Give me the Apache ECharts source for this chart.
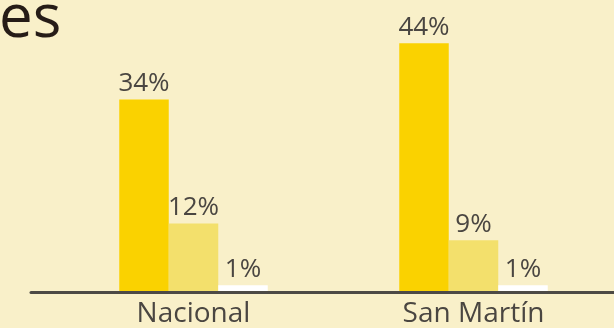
<!DOCTYPE html>
<html>
<head>
<meta charset="utf-8">
<script src="https://cdn.jsdelivr.net/npm/echarts@6/dist/echarts.min.js"></script>
<style>
  html, body { margin: 0; padding: 0; background: #F9F0C9; }
  #chart { width: 614px; height: 328px; }
</style>
</head>
<body>
<div id="chart"></div>
<script>
// Regions on the horizontal axis
const categories = ['Nacional', 'San Martín'];
// Three answer groups per region, in percent
const seriesA = [34, 44];
const seriesB = [12, 9];
const seriesC = [1, 1];
const seriesColors = ['#FAD200', '#F3E06C', '#FFFFFF'];
const titleText = 'es';

const FONT = '"Open Sans", "Noto Sans", sans-serif';
const TEXT = '#4A4641';
const RULE = '#4D4A45';

function barSeries(values, color) {
  return {
    type: 'bar',
    data: values,
    xAxisIndex: 0,
    yAxisIndex: 0,
    barWidth: 49.5,
    barGap: '0%',
    itemStyle: { color: color },
    label: {
      show: true,
      position: 'top',
      distance: 3,
      formatter: '{c}%',
      fontFamily: FONT,
      fontSize: 26,
      color: TEXT
    },
    silent: true,
    z: 1
  };
}

const chart = echarts.init(document.getElementById('chart'), null, { renderer: 'canvas' });
chart.setOption({
  backgroundColor: '#F9F0C9',
  animation: false,
  title: {
    text: titleText,
    left: -1,
    top: -10,
    padding: 0,
    textStyle: { fontFamily: FONT, fontSize: 60, fontWeight: 'normal', color: '#261C17' }
  },
  grid: [
    // bars
    { left: 53.5, right: 0.5, top: 9.5, bottom: 36, containLabel: false },
    // baseline rule, running a little further left than the bars' bands
    { left: 31, right: 0, top: 9.5, bottom: 36, containLabel: false }
  ],
  xAxis: [
    {
      type: 'category',
      gridIndex: 0,
      data: categories,
      axisLine: { show: false },
      axisTick: { show: false },
      axisLabel: { fontFamily: FONT, fontSize: 28, color: TEXT, margin: 9 }
    },
    {
      type: 'value',
      gridIndex: 1,
      min: 0,
      max: 1,
      axisLine: { show: true, lineStyle: { color: RULE, width: 3 } },
      axisTick: { show: false },
      axisLabel: { show: false },
      splitLine: { show: false },
      z: 5
    }
  ],
  yAxis: [
    { type: 'value', gridIndex: 0, min: 0, max: 50, show: false, splitLine: { show: false } },
    { type: 'value', gridIndex: 1, min: 0, max: 50, show: false, splitLine: { show: false } }
  ],
  series: [
    barSeries(seriesA, seriesColors[0]),
    barSeries(seriesB, seriesColors[1]),
    barSeries(seriesC, seriesColors[2])
  ]
});
</script>
</body>
</html>
